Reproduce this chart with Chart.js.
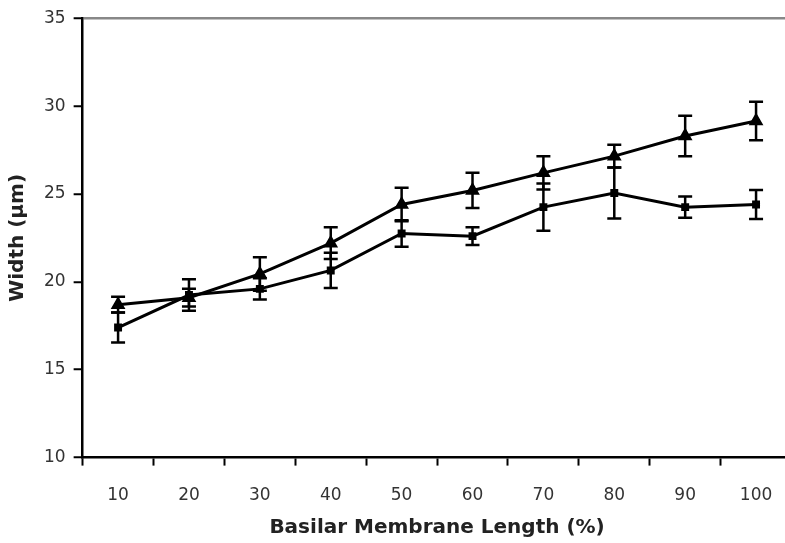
<!DOCTYPE html>
<html>
<head>
<meta charset="utf-8">
<script src="https://cdn.jsdelivr.net/npm/chart.js@4.4.1/dist/chart.umd.min.js"></script>
<style>
    html, body { margin: 0; padding: 0; overflow: hidden; background: #fff; }
    #wrap { width: 800px; height: 543px; }
</style>
</head>
<body>
<div id="wrap"><canvas id="chart" width="800" height="543"></canvas></div>
<script>
// Data
const lengths = ['10', '20', '30', '40', '50', '60', '70', '80', '90', '100'];
const triangleWidth = [18.7, 19.1, 20.45, 22.2, 24.4, 25.2, 26.2, 27.15, 28.3, 29.15];
const triangleErr = [0.45, 0.5, 0.95, 0.9, 0.95, 1.0, 0.95, 0.65, 1.15, 1.1];
const squareWidth = [17.4, 19.25, 19.6, 20.65, 22.75, 22.6, 24.25, 25.05, 24.25, 24.4];
const squareErr = [0.85, 0.9, 0.6, 1.0, 0.75, 0.5, 1.35, 1.45, 0.6, 0.82];
const yTicks = [10, 15, 20, 25, 30, 35];

const FONT = 'DejaVu Sans, Liberation Sans, Arial, sans-serif';

// Simple error bar plugin, uses the chart's own scales
const errorBars = {
    id: 'errorBars',
    afterDatasetsDraw(chart) {
        const ctx = chart.ctx;
        const yScale = chart.scales.y;
        ctx.save();
        ctx.strokeStyle = '#000';
        ctx.lineWidth = 2.5;
        chart.data.datasets.forEach((ds, di) => {
            const meta = chart.getDatasetMeta(di);
            meta.data.forEach((pt, i) => {
                const v = ds.data[i];
                const e = ds.errors[i];
                const top = yScale.getPixelForValue(v + e);
                const bot = yScale.getPixelForValue(v - e);
                const x = pt.x;
                ctx.beginPath();
                ctx.moveTo(x, top);
                ctx.lineTo(x, bot);
                ctx.moveTo(x - 7, top);
                ctx.lineTo(x + 7, top);
                ctx.moveTo(x - 7, bot);
                ctx.lineTo(x + 7, bot);
                ctx.stroke();
            });
        });
        ctx.restore();
    }
};

new Chart(document.getElementById('chart'), {
    type: 'line',
    data: {
        labels: lengths,
        datasets: [
            {
                label: 'Triangle',
                data: triangleWidth,
                errors: triangleErr,
                borderColor: '#000',
                backgroundColor: '#000',
                borderWidth: 3,
                pointStyle: 'triangle',
                pointRadius: 5.5,
                tension: 0
            },
            {
                label: 'Square',
                data: squareWidth,
                errors: squareErr,
                borderColor: '#000',
                backgroundColor: '#000',
                borderWidth: 3,
                pointStyle: 'rect',
                pointRadius: 3.5,
                tension: 0
            }
        ]
    },
    options: {
        responsive: false,
        animation: false,
        layout: { padding: { top: 4, left: 6, right: 3, bottom: 3 } },
        plugins: {
            legend: { display: false },
            tooltip: { enabled: false }
        },
        scales: {
            x: {
                type: 'category',
                offset: true,
                grid: {
                    offset: true,
                    drawOnChartArea: false,
                    tickLength: 8,
                    tickColor: '#000',
                    tickWidth: 2
                },
                border: { color: '#000', width: 2.5 },
                ticks: {
                    color: '#333',
                    font: { family: FONT, size: 17 },
                    padding: 20,
                    maxRotation: 0
                },
                title: {
                    display: true,
                    text: 'Basilar Membrane Length (%)',
                    color: '#222',
                    font: { family: FONT, size: 20, weight: 'bold' },
                    padding: { top: -10, bottom: 0 }
                }
            },
            y: {
                min: 10,
                max: 35,
                afterBuildTicks: axis => { axis.ticks = yTicks.map(v => ({ value: v })); },
                grid: {
                    drawOnChartArea: true,
                    color: c => (c.tick && c.tick.value === 35 ? '#888' : 'rgba(0,0,0,0)'),
                    lineWidth: 2.5,
                    tickLength: 9,
                    tickColor: '#000',
                    tickWidth: 2
                },
                border: { color: '#000', width: 2.5 },
                ticks: {
                    color: '#333',
                    font: { family: FONT, size: 17 },
                    padding: 8
                },
                title: {
                    display: true,
                    text: 'Width (\u03bcm)',
                    color: '#222',
                    font: { family: FONT, size: 20, weight: 'bold' },
                    padding: { top: 0, bottom: 6 }
                }
            }
        }
    },
    plugins: [errorBars]
});
</script>
</body>
</html>
